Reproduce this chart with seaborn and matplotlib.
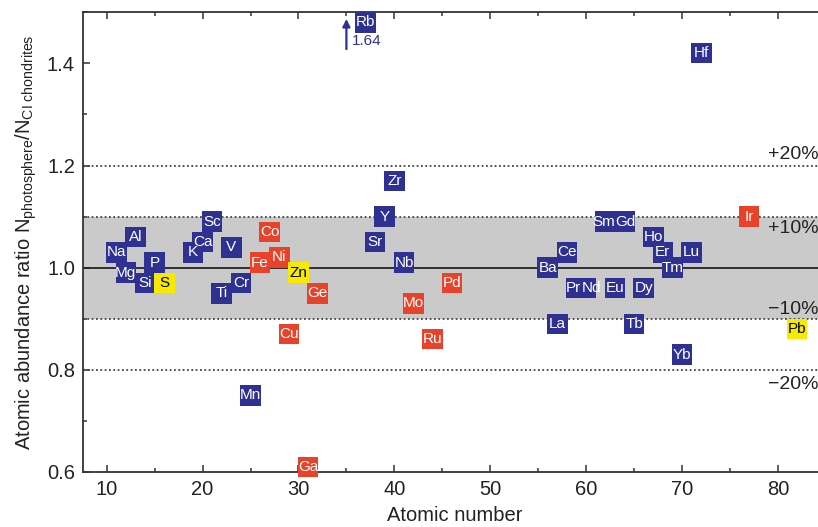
import numpy as np
import pandas as pd
import matplotlib
matplotlib.use("Agg")
import matplotlib.pyplot as plt
from matplotlib.ticker import MultipleLocator, FormatStrFormatter
import seaborn as sns

# ---------------- data ----------------
symbols = ["Na", "Mg", "Al", "Si", "P", "S", "K", "Ca", "Sc", "Ti", "V", "Cr", "Mn",
           "Fe", "Co", "Ni", "Cu", "Zn", "Ga", "Ge", "Rb", "Sr", "Y", "Zr", "Nb",
           "Mo", "Ru", "Pd", "Ba", "La", "Ce", "Pr", "Nd", "Sm", "Eu", "Gd", "Tb",
           "Dy", "Ho", "Er", "Tm", "Yb", "Lu", "Hf", "Ir", "Pb"]
atomic_number = [11, 12, 13, 14, 15, 16, 19, 20, 21, 22, 23, 24, 25,
                 26, 27, 28, 29, 30, 31, 32, 37, 38, 39, 40, 41,
                 42, 44, 46, 56, 57, 58, 59, 60, 62, 63, 64, 65,
                 66, 67, 68, 69, 70, 71, 72, 77, 82]
ratio = [1.03, 0.99, 1.06, 0.97, 1.01, 0.97, 1.03, 1.05, 1.09, 0.95, 1.04, 0.97, 0.75,
         1.01, 1.07, 1.02, 0.87, 0.99, 0.61, 0.95, 1.64, 1.05, 1.10, 1.17, 1.01,
         0.93, 0.86, 0.97, 1.00, 0.89, 1.03, 0.96, 0.96, 1.09, 0.96, 1.09, 0.89,
         0.96, 1.06, 1.03, 1.00, 0.83, 1.03, 1.42, 1.10, 0.88]
red_elements = ["Fe", "Co", "Ni", "Cu", "Ga", "Ge", "Mo", "Ru", "Pd", "Ir"]
yellow_elements = ["S", "Zn", "Pb"]
group = ["siderophile" if s in red_elements else
         "chalcophile" if s in yellow_elements else "lithophile" for s in symbols]

band_labels = ["+20%", "+10%", "\u221210%", "\u221220%"]
band_label_y = [1.222, 1.076, 0.918, 0.772]

# ---------------- style ----------------
sns.set_theme(style="ticks")
plt.rcParams["font.family"] = ["Liberation Sans", "DejaVu Sans"]
plt.rcParams["mathtext.fontset"] = "custom"
plt.rcParams["mathtext.rm"] = "Liberation Sans"
plt.rcParams["mathtext.it"] = "Liberation Sans:italic"
plt.rcParams["mathtext.bf"] = "Liberation Sans:bold"

palette = {"lithophile": "#2e3192", "siderophile": "#e8432a", "chalcophile": "#f7ea00"}
text_colors = {"lithophile": "white", "siderophile": "white", "chalcophile": "black"}

YMAX = 1.5
cap = 1.48  # display cap for off-scale values

df = pd.DataFrame({"sym": symbols, "Z": atomic_number, "ratio": ratio, "group": group})
df["shown"] = np.minimum(df["ratio"], cap)

fig = plt.figure(figsize=(8.18, 5.27), dpi=100)
ax = fig.add_axes([0.1018, 0.1044, 0.909, 0.8723])

# band and reference lines
ax.axhspan(0.9, 1.1, color="#cacaca", zorder=0, lw=0)
for yv in [0.8, 0.9, 1.1, 1.2]:
    ax.axhline(yv, color="#444444", lw=1.3, ls=(0, (1, 1.4)), zorder=1)
ax.axhline(1.0, color="#222222", lw=1.3, zorder=1)

sns.scatterplot(data=df, x="Z", y="shown", hue="group", palette=palette,
                marker="s", s=220, linewidth=0, legend=False, ax=ax,
                zorder=3, clip_on=False)

# element labels (adjacent pairs share one box: Pr|Nd, Sm|Gd)
pairs = {"Pr": ("Nd", "right"), "Nd": ("Pr", "left"),
         "Sm": ("Gd", "right"), "Gd": ("Sm", "left")}
zmap = dict(zip(df["sym"], df["Z"]))
for _, r in df.iterrows():
    x = r["Z"]
    ha = "center"
    if r["sym"] in pairs:
        other, ha = pairs[r["sym"]]
        x = (r["Z"] + zmap[other]) / 2.0
    ax.text(x, r["shown"], r["sym"], ha=ha, va="center", fontsize=11,
            color=text_colors[r["group"]], zorder=4, clip_on=False)

# off-scale indicator for values above the axis
blue = palette["lithophile"]
for _, r in df[df["ratio"] > YMAX].iterrows():
    ax.annotate("", xy=(r["Z"] - 2, 1.487), xytext=(r["Z"] - 2, 1.428),
                arrowprops=dict(arrowstyle="-|>", color=blue, lw=1.6,
                                mutation_scale=11, shrinkA=0, shrinkB=0),
                zorder=4)
    ax.text(r["Z"] - 1.4, 1.443, f"{r['ratio']:.2f}", ha="left", va="center",
            fontsize=11, color=blue, zorder=4)

for lab, yv in zip(band_labels, band_label_y):
    ax.text(79.0, yv, lab, ha="left", va="center", fontsize=14,
            color="#222222", zorder=2)

# axes
ax.set_xlim(7.56, 85.1)
ax.set_ylim(0.6, YMAX)
ax.xaxis.set_major_locator(MultipleLocator(10))
ax.xaxis.set_minor_locator(MultipleLocator(5))
ax.yaxis.set_major_locator(MultipleLocator(0.2))
ax.yaxis.set_minor_locator(MultipleLocator(0.1))
ax.yaxis.set_major_formatter(FormatStrFormatter("%.1f"))
ax.set_xticks([10, 20, 30, 40, 50, 60, 70, 80])
ax.tick_params(which="both", direction="in", top=True, right=False,
               width=1.1, color="#333333", labelsize=14.5, labelcolor="#222222")
ax.tick_params(which="major", length=5, pad=6)
ax.tick_params(which="minor", length=3)
for side in ["left", "bottom", "top"]:
    ax.spines[side].set_linewidth(1.3)
    ax.spines[side].set_color("#333333")
ax.spines["right"].set_visible(False)

ax.set_xlabel("Atomic number", fontsize=14.5, color="#222222", labelpad=5)
ax.set_ylabel(r"Atomic abundance ratio N$_{\mathrm{photosphere}}$/N$_{\mathrm{CI\ chondrites}}$",
              fontsize=14.5, color="#222222", labelpad=6)
ax.grid(False)
ax.set_facecolor("white")

fig.savefig("out.png", dpi=100)
